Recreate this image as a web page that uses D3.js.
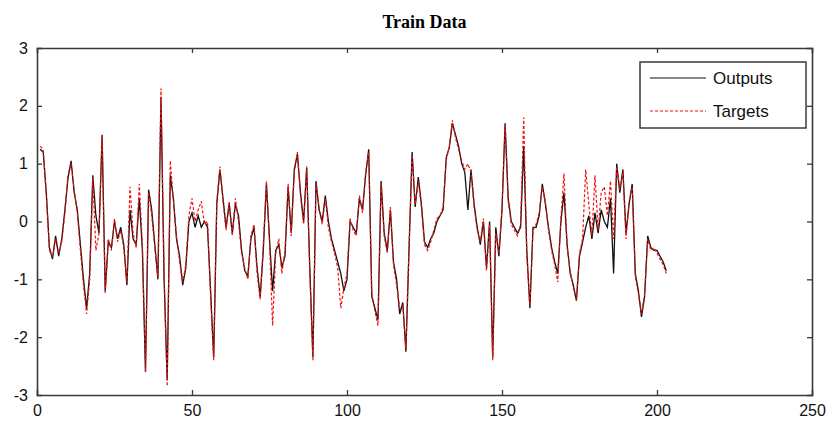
<!DOCTYPE html>
<meta charset="utf-8">
<script src="https://d3js.org/d3.v7.min.js"></script>
<style>
  body { margin: 0; background: #fff; }
  text { font-family: "Liberation Sans", Arial, sans-serif; }
</style>
<div id="my_dataviz"></div>
<script>

  // series values, sample index starts at 1
  var outputs = [
    1.25, 1.2, 0.5, -0.45, -0.65, -0.25, -0.6, -0.3, 0.2, 0.75,
    1.05, 0.5, 0.2, -0.4, -1.0, -1.5, -0.9, 0.8, 0.1, -0.2,
    1.5, -1.2, -0.35, -0.45, 0.0, -0.3, -0.1, -0.4, -1.1, 0.2,
    -0.3, -0.4, 0.4, -0.5, -2.6, 0.55, 0.2, -0.4, -1.0, 2.15,
    -1.0, -2.75, 0.8, 0.4, -0.3, -0.6, -1.1, -0.8, 0.0, 0.15,
    -0.1, 0.1, -0.1, 0.0, -0.1, -1.2, -2.35, 0.3, 0.9, 0.4,
    -0.1, 0.3, -0.2, 0.3, 0.1, -0.5, -0.85, -0.95, -0.3, -0.1,
    -0.8, -1.3, -0.5, 0.65, -0.3, -1.2, -0.5, -0.4, -0.8, -0.6,
    0.6, -0.2, 0.9, 1.17, 0.5, 0.0, 0.93, -0.8, -2.35, 0.7,
    0.2, 0.0, 0.45, 0.0, -0.3, -0.5, -0.7, -0.9, -1.2, -1.0,
    0.0, -0.1, -0.2, 0.4, 0.2, 0.8, 1.25, -1.3, -1.5, -1.7,
    0.7, -0.2, -0.5, 0.2, -0.7, -1.0, -1.6, -1.4, -2.25, -0.5,
    1.2, 0.25, 0.77, 0.3, -0.35, -0.45, -0.3, -0.2, 0.0, 0.1,
    0.2, 1.1, 1.28, 1.7, 1.5, 1.3, 1.0, 0.85, 0.2, 0.9,
    0.3, -0.1, -0.4, 0.0, -0.8, 0.0, -2.35, -0.1, -0.6, 0.2,
    1.7, 0.4, 0.0, -0.1, -0.2, -0.1, 1.3, -0.5, -1.5, -0.1,
    -0.1, 0.1, 0.65, 0.3, -0.1, -0.45, -0.7, -0.9, 0.0, 0.5,
    -0.4, -0.9, -1.1, -1.37, -0.6, -0.35, -0.1, 0.1, -0.3, 0.15,
    -0.2, 0.2, 0.0, -0.1, 0.4, -0.9, 1.0, 0.5, 0.9, -0.2,
    0.3, 0.65, -0.9, -1.2, -1.65, -1.3, -0.25, -0.45, -0.5, -0.5,
    -0.6, -0.7, -0.85
  ];

  var targets = [
    1.3, 1.25, 0.45, -0.5, -0.6, -0.3, -0.55, -0.35, 0.15, 0.8,
    1.0, 0.55, 0.15, -0.5, -1.1, -1.6, -1.0, 0.75, -0.5, -0.2,
    1.45, -1.25, -0.3, -0.5, 0.05, -0.35, -0.15, -0.45, -1.05, 0.6,
    -0.2, -0.45, 0.65, -0.4, -2.6, 0.5, 0.1, -0.45, -0.95, 2.3,
    -0.9, -2.85, 1.05, 0.35, -0.25, -0.7, -1.05, -0.75, 0.1, 0.4,
    0.0, 0.2, 0.35, -0.05, 0.0, -1.3, -2.4, 0.35, 0.95, 0.35,
    -0.15, 0.35, -0.25, 0.4, 0.0, -0.55, -0.8, -1.0, -0.25, -0.05,
    -0.9, -1.35, -0.4, 0.7, -0.35, -1.8, -0.55, -0.3, -0.9, -0.5,
    0.65, -0.25, 0.85, 1.2, 0.45, -0.05, 0.95, -0.9, -2.4, 0.65,
    0.25, -0.05, 0.4, -0.1, -0.35, -0.55, -0.8, -1.5, -1.15, -0.9,
    0.05, -0.15, -0.25, 0.45, 0.15, 0.85, 1.2, -1.25, -1.55, -1.8,
    0.65, -0.25, -0.55, 0.25, -0.75, -1.1, -1.5, -1.45, -2.2, -0.45,
    1.15, 0.3, 0.7, 0.25, -0.4, -0.5, -0.35, -0.15, 0.05, 0.1,
    0.25, 1.05, 1.3, 1.75, 1.45, 1.25, 1.05, 0.9, 1.0, 0.85,
    0.25, -0.15, -0.35, 0.05, -0.85, -0.05, -2.4, -0.2, -0.55, 0.25,
    1.65, 0.35, -0.05, -0.15, -0.25, -0.05, 1.8, -0.6, -1.45, -0.15,
    -0.05, 0.15, 0.6, 0.35, -0.15, -0.5, -0.75, -1.05, 0.05, 0.83,
    -0.45, -0.85, -1.15, -1.35, -0.55, -0.3, 0.9, 0.3, -0.25, 0.8,
    -0.15, 0.5, 0.6, 0.1, 0.7, -0.3, 0.95, 0.55, 0.85, -0.3,
    0.35, 0.6, -0.95, -1.25, -1.6, -1.25, -0.3, -0.5, -0.45, -0.55,
    -0.65, -0.75, -0.9
  ];

  var xTicks = [0, 50, 100, 150, 200, 250];
  var yTicks = [-3, -2, -1, 0, 1, 2, 3];
  var legendNames = ["Outputs", "Targets"];

  var margin = {top: 48, right: 22, bottom: 31, left: 37},
      width = 834 - margin.left - margin.right,
      height = 426 - margin.top - margin.bottom;

  var svg = d3.select("#my_dataviz")
    .append("svg")
      .attr("width", 834)
      .attr("height", 426)
    .append("g")
      .attr("transform", "translate(" + margin.left + "," + margin.top + ")");

  var x = d3.scaleLinear().domain([0, 250]).range([0, width]);
  var y = d3.scaleLinear().domain([-3, 3]).range([height, 0]);

  // axes with inward ticks, MATLAB style box
  var axisColor = "#3a3a3a";
  var axBottom = svg.append("g")
    .attr("transform", "translate(0," + height + ")")
    .call(d3.axisBottom(x).tickValues(xTicks).tickSize(-5).tickPadding(10));
  var axTop = svg.append("g")
    .call(d3.axisTop(x).tickValues(xTicks).tickSize(-5).tickFormat(""));
  var axLeft = svg.append("g")
    .call(d3.axisLeft(y).tickValues(yTicks).tickSize(-5).tickPadding(9).tickFormat(d3.format("d")));
  var axRight = svg.append("g")
    .attr("transform", "translate(" + width + ",0)")
    .call(d3.axisRight(y).tickValues(yTicks).tickSize(-5).tickFormat(""));

  [axBottom, axTop, axLeft, axRight].forEach(function(g) {
    g.select(".domain").attr("stroke", axisColor).attr("stroke-width", 1.6);
    g.selectAll(".tick line").attr("stroke", axisColor).attr("stroke-width", 1.3);
    g.selectAll(".tick text").attr("fill", "#111").style("font-size", "16px")
      .style("font-family", "'Liberation Sans', Arial, sans-serif");
  });
  // drop the end ticks that sit on the frame
  [axBottom, axTop].forEach(function(g) {
    g.selectAll(".tick line").filter(function(d) { return d === 0 || d === 250; }).remove();
  });
  [axLeft, axRight].forEach(function(g) {
    g.selectAll(".tick line").filter(function(d) { return d === -3 || d === 3; }).remove();
  });
  axLeft.selectAll(".tick text").text(function(d) { return d < 0 ? "-" + Math.abs(d) : d; });

  var line = d3.line()
    .x(function(d, i) { return x(i + 1); })
    .y(function(d) { return y(d); });

  svg.append("path")
    .datum(outputs)
    .attr("fill", "none")
    .attr("stroke", "#111")
    .attr("stroke-width", 1.3)
    .attr("d", line);

  svg.append("path")
    .datum(targets)
    .attr("fill", "none")
    .attr("stroke", "#f01010")
    .attr("stroke-width", 1.2)
    .attr("stroke-dasharray", "3,2")
    .attr("d", line);

  // title
  svg.append("text")
    .attr("x", width / 2)
    .attr("y", -20)
    .attr("text-anchor", "middle")
    .style("font-family", "'Liberation Serif', 'Times New Roman', serif")
    .style("font-weight", "bold")
    .style("font-size", "18px")
    .text("Train Data");

  // legend
  var legend = svg.append("g")
    .attr("transform", "translate(" + (640 - margin.left) + "," + (62 - margin.top) + ")");

  legend.append("rect")
    .attr("width", 166)
    .attr("height", 66)
    .attr("fill", "#fff")
    .attr("stroke", axisColor)
    .attr("stroke-width", 1.5);

  legend.selectAll("line")
    .data(legendNames)
    .enter()
    .append("line")
    .attr("x1", 10)
    .attr("x2", 66)
    .attr("y1", function(d, i) { return 16 + i * 33; })
    .attr("y2", function(d, i) { return 16 + i * 33; })
    .attr("stroke", function(d, i) { return i === 0 ? "#111" : "#f01010"; })
    .attr("stroke-width", 1.2)
    .attr("stroke-dasharray", function(d, i) { return i === 0 ? null : "3,2"; });

  legend.selectAll("text")
    .data(legendNames)
    .enter()
    .append("text")
    .attr("x", 73)
    .attr("y", function(d, i) { return 22 + i * 33; })
    .style("font-size", "17px")
    .attr("fill", "#111")
    .text(function(d) { return d; });

</script>
